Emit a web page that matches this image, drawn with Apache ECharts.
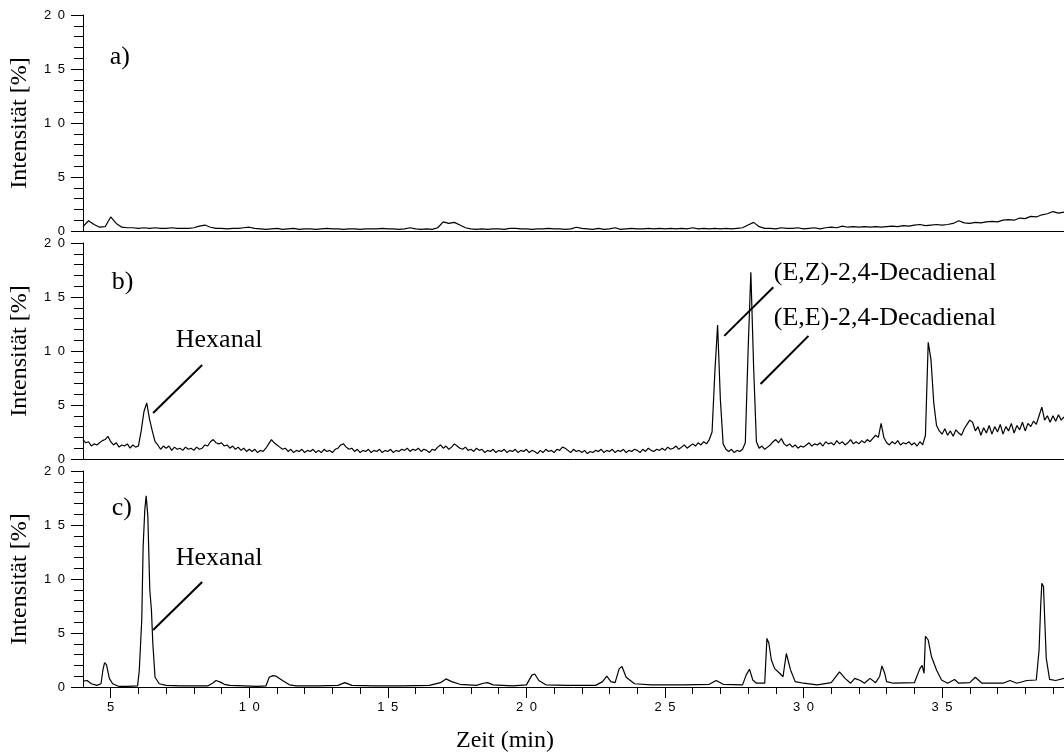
<!DOCTYPE html>
<html>
<head>
<meta charset="UTF-8"/>
<title>Chromatogramme</title>
<script src="https://cdn.jsdelivr.net/npm/echarts@6/dist/echarts.min.js"></script>
<style>
  html, body { margin: 0; padding: 0; background: #fff; }
  #chart { width: 1064px; height: 756px; }
</style>
</head>
<body>
<div id="chart"></div>
<script>
// Zeitachse (min)
var timeStart = 4.0;
var timeEnd = 39.4;

// a) gleichmaessig alle 0.2 min
var stepA = 0.2;
var intensityA = [
  0.4, 0.95, 0.6, 0.35, 0.4, 1.3, 0.7, 0.35, 0.3, 0.3,
  0.25, 0.3, 0.25, 0.3, 0.25, 0.25, 0.3, 0.25, 0.25, 0.25,
  0.3, 0.45, 0.55, 0.35, 0.25, 0.25, 0.2, 0.25, 0.25, 0.3,
  0.35, 0.25, 0.2, 0.15, 0.2, 0.25, 0.15, 0.2, 0.25, 0.15,
  0.2, 0.2, 0.15, 0.2, 0.25, 0.2, 0.2, 0.15, 0.2, 0.2,
  0.15, 0.2, 0.2, 0.2, 0.25, 0.2, 0.2, 0.15, 0.2, 0.3,
  0.2, 0.15, 0.2, 0.15, 0.3, 0.85, 0.7, 0.8, 0.55, 0.3,
  0.2, 0.15, 0.2, 0.15, 0.2, 0.2, 0.15, 0.25, 0.25, 0.2,
  0.2, 0.15, 0.2, 0.2, 0.25, 0.2, 0.2, 0.15, 0.2, 0.35,
  0.25, 0.2, 0.15, 0.25, 0.15, 0.2, 0.3, 0.15, 0.2, 0.25,
  0.2, 0.2, 0.25, 0.2, 0.25, 0.2, 0.25, 0.2, 0.25, 0.2,
  0.3, 0.2, 0.25, 0.2, 0.25, 0.2, 0.25, 0.2, 0.25, 0.3,
  0.55, 0.8, 0.4, 0.25, 0.25, 0.2, 0.3, 0.25, 0.25, 0.3,
  0.2, 0.25, 0.3, 0.2, 0.3, 0.35, 0.3, 0.45, 0.35, 0.4,
  0.35, 0.4, 0.35, 0.4, 0.35, 0.4, 0.45, 0.4, 0.5, 0.45,
  0.55, 0.6, 0.5, 0.55, 0.6, 0.55, 0.6, 0.7, 0.95, 0.75,
  0.7, 0.8, 0.75, 0.85, 0.9, 0.85, 1.0, 1.05, 1.0, 1.2,
  1.15, 1.35, 1.3, 1.5, 1.6, 1.8, 1.65, 1.75
];

// b) gleichmaessig alle 0.1 min, eine Zeile pro Minute
var stepB = 0.1;
var intensityB = [
  1.8, 1.5, 1.6, 1.2, 1.4, 1.3, 1.5, 1.7, 1.8, 2.1,
  1.6, 1.3, 1.5, 1.1, 1.3, 1.2, 1.4, 1.0, 1.3, 1.1,
  1.2, 2.6, 4.4, 5.2, 3.7, 2.6, 1.6, 1.3, 0.9, 1.2,
  1.0, 1.2, 0.8, 1.1, 0.9, 1.0, 0.8, 1.1, 0.9, 1.0,
  0.8, 1.1, 0.9, 1.0, 1.3, 1.2, 1.6, 1.8, 1.5, 1.4,
  1.5, 1.2, 1.3, 1.0, 1.2, 0.9, 1.1, 0.8, 1.0, 0.7,
  0.9, 0.7, 0.9, 0.6, 0.8, 0.7, 1.0, 1.4, 1.8, 1.5,
  1.3, 1.1, 0.9, 1.0, 0.7, 0.9, 0.6, 0.8, 0.7, 0.9,
  0.6, 0.8, 0.7, 0.9, 0.6, 0.8, 0.6, 0.9, 0.7, 0.8,
  0.6, 0.9, 1.0, 1.3, 1.4, 1.1, 0.9, 1.0, 0.7, 0.9,
  0.6, 0.8, 0.7, 0.9, 0.6, 0.8, 0.7, 0.9, 0.6, 0.8,
  0.7, 0.9, 0.6, 0.8, 0.7, 0.9, 0.8, 1.0, 0.7, 0.9,
  0.8, 1.0, 0.7, 0.9, 0.8, 0.6, 0.9, 0.8, 1.1, 1.3,
  1.0, 1.2, 0.9, 1.1, 1.4, 1.2, 1.0, 0.9, 1.1, 0.8,
  0.9, 0.7, 1.0, 0.8, 0.9, 0.6, 0.8, 0.7, 0.9, 0.6,
  0.8, 0.7, 0.9, 0.6, 0.8, 0.7, 0.9, 0.6, 0.8, 0.7,
  0.9, 0.6, 0.8, 0.7, 0.5, 0.8, 0.6, 0.9, 0.7, 0.8,
  0.6, 0.9, 0.8, 1.1, 1.0, 0.8, 0.6, 0.9, 0.7, 0.8,
  0.6, 0.8, 0.5, 0.7, 0.6, 0.8, 0.7, 0.9, 0.6, 0.8,
  0.7, 0.9, 0.6, 0.8, 0.7, 0.9, 0.6, 0.8, 0.7, 0.9,
  0.8, 0.6, 0.9, 0.7, 1.0, 0.8, 0.7, 0.9, 0.8, 1.0,
  0.8, 1.1, 0.9, 1.0, 1.2, 0.9, 1.1, 1.3, 1.0, 1.2,
  1.4, 1.2, 1.5, 1.3, 1.6, 1.4, 1.8, 2.5, 8.0, 12.4,
  5.5, 1.4, 0.9, 0.7, 0.9, 0.6, 0.8, 0.7, 0.9, 1.5,
  10.0, 17.3, 8.5, 1.6, 1.0, 1.2, 0.9, 1.1, 1.3, 1.6,
  1.8, 1.5, 1.9, 1.4, 1.2, 1.4, 1.1, 1.3, 1.0, 1.2,
  1.1, 1.3, 1.5, 1.2, 1.4, 1.3, 1.5, 1.2, 1.6, 1.4,
  1.5, 1.3, 1.7, 1.4, 1.6, 1.3, 1.5, 1.8, 1.4, 1.6,
  1.4, 1.7, 1.5, 1.8, 1.6, 1.9, 2.2, 2.0, 3.3, 2.0,
  1.5, 1.3, 1.6, 1.4, 1.7, 1.3, 1.5, 1.4, 1.6, 1.3,
  1.5, 1.2, 1.6, 1.3, 2.2, 10.8, 9.2, 5.2, 3.1, 2.6,
  2.3, 2.8, 2.2, 2.6, 2.1, 2.7, 2.4, 2.2, 2.8, 3.2,
  3.6, 3.4, 2.6, 3.0, 2.2, 2.9, 2.4, 3.1, 2.3, 3.0,
  2.5, 3.2, 2.3, 3.0, 2.6, 3.3, 2.4, 3.1, 2.7, 3.4,
  2.6, 3.3, 3.0, 3.5, 3.2, 4.0, 4.8, 3.6, 4.0, 3.4,
  4.0, 3.5, 4.1, 3.6, 3.9
];

// c) Stuetzpunkte
var timeC = [
  4.0, 4.15, 4.3, 4.5, 4.65, 4.72, 4.78, 4.85, 4.95, 5.07, 5.3, 5.6, 5.97,
  6.03, 6.12, 6.17, 6.23, 6.28, 6.34, 6.41, 6.47, 6.52, 6.6, 6.75, 7.0, 7.5,
  8.0, 8.5, 8.7, 8.8, 8.96, 9.1, 9.3, 9.8, 10.3, 10.6, 10.72, 10.85, 10.97,
  11.2, 11.45, 11.7, 12.5, 13.2, 13.45, 13.7, 14.5, 15.5, 16.5, 16.9, 17.1,
  17.3, 17.6, 18.2, 18.45, 18.6, 18.8, 19.5, 20.0, 20.2, 20.3, 20.45, 20.7,
  21.5, 22.5, 22.75, 22.9, 23.05, 23.2, 23.35, 23.45, 23.6, 23.9, 24.5, 25.7,
  26.6, 26.85, 27.1, 27.8, 27.93, 28.05, 28.17, 28.3, 28.6, 28.68, 28.75,
  28.84, 28.96, 29.14, 29.26, 29.38, 29.45, 29.53, 29.7, 30.0, 30.5, 31.0,
  31.3, 31.5, 31.7, 31.85, 32.05, 32.2, 32.4, 32.6, 32.75, 32.83, 32.93, 33.0,
  33.24, 34.0, 34.2, 34.28, 34.35, 34.4, 34.5, 34.62, 34.8, 34.98, 35.2,
  35.45, 35.6, 36.0, 36.2, 36.44, 37.2, 37.45, 37.7, 38.06, 38.4, 38.5, 38.56,
  38.6, 38.66, 38.71, 38.76, 38.88, 39.1, 39.4
];
var intensityC = [
  0.55, 0.6, 0.3, 0.15, 0.3, 1.6, 2.25, 2.05, 0.8, 0.3, 0.05, 0.05, 0.1,
  1.5, 6.2, 13.0, 16.4, 17.7, 15.8, 9.0, 7.1, 4.0, 0.9, 0.3, 0.15, 0.1,
  0.1, 0.1, 0.4, 0.6, 0.45, 0.25, 0.15, 0.1, 0.05, 0.1, 0.9, 1.05, 1.0,
  0.6, 0.2, 0.1, 0.1, 0.15, 0.4, 0.15, 0.1, 0.1, 0.15, 0.4, 0.75,
  0.5, 0.25, 0.15, 0.35, 0.4, 0.2, 0.1, 0.2, 1.1, 1.2, 0.6, 0.2,
  0.15, 0.15, 0.5, 1.0, 0.5, 0.4, 1.7, 1.9, 0.9, 0.3, 0.2, 0.2,
  0.25, 0.6, 0.25, 0.2, 1.1, 1.65, 0.65, 0.35, 0.35, 4.5, 4.05,
  2.5, 1.7, 1.27, 0.95, 3.1, 2.96, 1.6, 0.5, 0.35, 0.2, 0.4,
  1.4, 0.8, 0.35, 0.8, 0.6, 0.35, 0.8, 0.4, 1.0, 1.95, 1.27, 0.5,
  0.35, 0.4, 1.7, 2.0, 1.27, 4.7, 4.35, 2.8, 1.57, 0.65, 0.35,
  0.7, 0.35, 0.4, 0.9, 0.35, 0.35, 0.6, 0.35, 0.6, 0.65, 3.4, 7.6,
  9.6, 9.3, 5.9, 2.65, 0.7, 0.6, 0.8
];

var xMajorTicks = [5, 10, 15, 20, 25, 30, 35];
var xMinorTicks = [5, 6, 7, 8, 9, 10, 11, 12, 13, 14, 15, 16, 17, 18, 19, 20, 21, 22,
  23, 24, 25, 26, 27, 28, 29, 30, 31, 32, 33, 34, 35, 36, 37, 38, 39];

var panelNames = ['a)', 'b)', 'c)'];
var panelNamePos = [[4.95, 16.1], [5.02, 16.4], [5.02, 16.6]];

// Beschriftungen: [panel, t, y, text] und Hinweislinien [panel, t1, y1, t2, y2]
var peakTexts = [
  [1, 7.33, 11.0, 'Hexanal'],
  [1, 28.91, 17.2, '(E,Z)-2,4-Decadienal'],
  [1, 28.91, 13.06, '(E,E)-2,4-Decadienal'],
  [2, 7.33, 11.94, 'Hexanal']
];
var peakLines = [
  [1, 6.53, 4.26, 8.30, 8.7],
  [1, 27.14, 11.4, 28.91, 15.9],
  [1, 28.45, 6.94, 30.18, 11.4],
  [2, 6.53, 5.28, 8.30, 9.72]
];

var serif = "'Liberation Serif', 'Times New Roman', serif";
var sans = "'Liberation Sans', Arial, sans-serif";

function spaced(v) {
  return String(v).split('').join('\u2002');
}

function evenPairs(vals, step) {
  var out = [];
  for (var i = 0; i < vals.length; i++) {
    out.push([+(timeStart + i * step).toFixed(2), vals[i]]);
  }
  return out;
}

function pairs(ts, vals) {
  var out = [];
  for (var i = 0; i < ts.length; i++) out.push([ts[i], vals[i]]);
  return out;
}

var gridTops = [15, 243, 471];
var grids = [], xAxes = [], yAxes = [], series = [];

for (var i = 0; i < 3; i++) {
  grids.push({ left: 83, right: 0, top: gridTops[i], height: 216 });
  yAxes.push({
    gridIndex: i, type: 'value', min: 0, max: 20, interval: 5,
    name: 'Intensität [%]', nameLocation: 'middle', nameGap: 51,
    nameTextStyle: { fontFamily: serif, fontSize: 24, color: '#000' },
    axisLine: { show: true, lineStyle: { color: '#000', width: 1 } },
    axisTick: { show: true, length: 12, lineStyle: { color: '#000' } },
    minorTick: { show: true, splitNumber: 5, length: 9, lineStyle: { color: '#000' } },
    splitLine: { show: false },
    axisLabel: { margin: 18, fontFamily: sans, fontSize: 13, color: '#000', formatter: spaced }
  });
  if (i < 2) {
    xAxes.push({
      gridIndex: i, type: 'value', min: timeStart, max: timeEnd, position: 'bottom',
      axisLine: { show: true, onZero: false, lineStyle: { color: '#000', width: 1 } },
      axisTick: { show: false }, axisLabel: { show: false }, splitLine: { show: false }
    });
  }
}
// c) Hauptachse mit Beschriftung
xAxes.push({
  gridIndex: 2, type: 'value', min: timeStart, max: timeEnd, position: 'bottom',
  axisLine: { show: true, onZero: false, lineStyle: { color: '#000', width: 1 } },
  axisTick: { show: true, customValues: xMajorTicks, length: 11, lineStyle: { color: '#000' } },
  axisLabel: { customValues: xMajorTicks, margin: 14, fontFamily: sans, fontSize: 13, color: '#000', formatter: spaced },
  splitLine: { show: false }
});
// c) kleine Striche je Minute
xAxes.push({
  gridIndex: 2, type: 'value', min: timeStart, max: timeEnd, position: 'bottom',
  axisLine: { show: false, onZero: false },
  axisTick: { show: true, customValues: xMinorTicks, length: 7, lineStyle: { color: '#000' } },
  axisLabel: { show: false }, splitLine: { show: false }
});

var traces = [
  evenPairs(intensityA, stepA),
  evenPairs(intensityB, stepB),
  pairs(timeC, intensityC)
];

for (var p = 0; p < 3; p++) {
  var mpData = [{ coord: panelNamePos[p], name: panelNames[p] }];
  peakTexts.forEach(function (r) { if (r[0] === p) mpData.push({ coord: [r[1], r[2]], name: r[3] }); });
  var mlData = [];
  peakLines.forEach(function (r) { if (r[0] === p) mlData.push([{ coord: [r[1], r[2]] }, { coord: [r[3], r[4]] }]); });
  series.push({
    type: 'line', xAxisIndex: p, yAxisIndex: p, data: traces[p],
    showSymbol: false, symbol: 'none', silent: true,
    lineStyle: { color: '#000', width: 1.2 },
    markPoint: {
      symbol: 'rect', symbolSize: 1, silent: true,
      itemStyle: { color: 'rgba(0,0,0,0)' },
      label: { show: true, position: 'right', distance: 0, formatter: '{b}',
        fontFamily: serif, fontSize: 26, color: '#000' },
      data: mpData
    },
    markLine: {
      symbol: ['none', 'none'], silent: true,
      label: { show: false },
      lineStyle: { type: 'solid', color: '#000', width: 2 },
      data: mlData
    }
  });
}

var chart = echarts.init(document.getElementById('chart'));
chart.setOption({
  animation: false,
  backgroundColor: '#fff',
  grid: grids,
  xAxis: xAxes,
  yAxis: yAxes,
  series: series,
  graphic: [{
    type: 'text', left: 456, top: 729,
    style: { text: 'Zeit (min)', font: '24px ' + serif, fill: '#000' }
  }]
});
</script>
</body>
</html>
